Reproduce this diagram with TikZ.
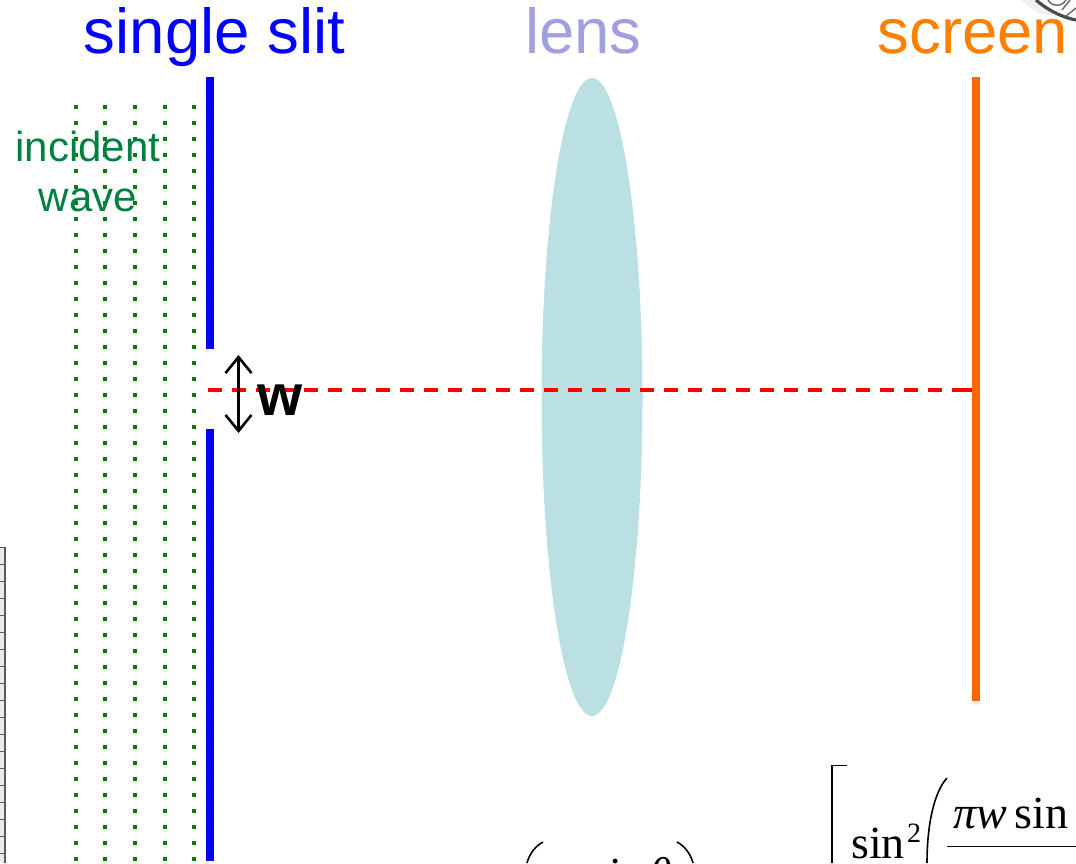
\documentclass[tikz,border=0pt]{standalone}
\usepackage{fontspec}
\setmainfont{Liberation Sans}
\newfontfamily\eqfont{Liberation Serif}
\usetikzlibrary{arrows.meta}
\definecolor{slitblue}{RGB}{0,0,255}
\definecolor{lensc}{RGB}{187,224,227}
\definecolor{lenstxt}{RGB}{160,160,224}
\definecolor{scrc}{RGB}{255,102,0}
\definecolor{scrtxt}{RGB}{255,128,0}
\definecolor{wavetxt}{RGB}{0,128,64}
\definecolor{dotc}{RGB}{0,128,0}
\tikzset{
  wavefront/.style={dotc,line width=4pt,dash pattern=on 4pt off 12pt},
  barblue/.style={slitblue,line width=8pt},
  title/.style={font=\fontsize{63.5}{63.5}\selectfont,inner sep=0pt,anchor=base},
  wavelabel/.style={font=\fontsize{42}{42}\selectfont,wavetxt,inner sep=0pt,anchor=base},
  eqtext/.style={font=\eqfont\fontsize{46}{46}\selectfont,inner sep=0pt,anchor=base west},
  gridline/.style={line width=1.5pt,black!65},
  openarrow/.style={line width=2.6pt,black,{Straight Barb[length=16pt,width=26pt,line width=2.6pt]}-{Straight Barb[length=16pt,width=26pt,line width=2.6pt]}},
}
\begin{document}
\begin{tikzpicture}[x=1pt,y=-1pt]
\useasboundingbox (0,0) rectangle (1076,863);
\clip (0,0) rectangle (1076,863);
% wave fronts
\foreach \wx in {75.5,105,135,164.5,194}
  \draw[wavefront] (\wx,105) -- (\wx,863);
% labels
\node[title,slitblue] (slit) at (214.5,53) {single slit};
\node[title,lenstxt] (lenslab) at (583.5,53) {lens};
\node[title,scrtxt] (scrlab) at (973,53) {screen};
\node[wavelabel] (inc) at (88,161) {incident};
\node[wavelabel] (wav) at (88,211) {wave};
% slit
\draw[barblue] (209.5,77) -- (209.5,349);
\draw[barblue] (209.5,429) -- (209.5,861);
% lens
\fill[lensc] (592,397) ellipse [x radius=50.5,y radius=319];
% axis
\coordinate (axL) at (208,389.5);
\coordinate (axR) at (976,389.5);
\draw[red,line width=4pt,dash pattern=on 14pt off 10pt] (axL) -- (axR);
\draw[red,line width=4pt] (962,389.5) -- (axR);
% screen
\draw[scrc,line width=8pt] (976,77) -- (976,701);
% w
\coordinate (wT) at (238.5,355);
\coordinate (wB) at (238.5,433);
\draw[openarrow] (wT) -- (wB);
\node[font=\bfseries\fontsize{58}{58}\selectfont,inner sep=0pt,anchor=base] (w) at (280,415) {w};
% plot fragment
\fill[black!8] (0,547) rectangle (4,863);
\draw[gridline] (5,547) -- (5,863);
\foreach \gy in {547.5,564.5,...,863}
  \draw[gridline] (0,\gy) -- (5,\gy);
% sketch fragment
\fill[black!6] (1020,0) -- (1036,0) -- (1056,16) -- (1040,14) -- cycle;
\draw[black!70,line width=3.2pt] (1036,0) .. controls (1045,8) and (1060,17) .. (1076,20);
\draw[black!60,line width=1.4pt] (1048,0) .. controls (1052,7) and (1062,7) .. (1066,0);
\draw[black!60,line width=1.4pt] (1062,10) -- (1070,0);
\draw[black!60,line width=1.4pt] (1066,16) -- (1076,8);
% equations
\node[eqtext] (sinsq) at (851,858) {sin};
\node[font=\eqfont\fontsize{28}{28}\selectfont,inner sep=0pt,anchor=base west] (sq) at (907,842) {2};
\node[eqtext] (pww) at (953,828) {\textit{πw}\,sin};
\draw[line width=1.4pt] (947,846.5) -- (1076,846.5);
\draw[line width=1.4pt] (847,765.5) -- (832,765.5) -- (832,863);
\draw[line width=1.6pt] (947,778) .. controls (934,792) and (927,825) .. (927,863);
\draw[line width=1.6pt] (543,842) .. controls (535,846) and (529,855) .. (527,863);
\draw[line width=1.6pt] (677,842) .. controls (685,846) and (691,855) .. (693,863);
\node[eqtext] (eqleftw) at (555,889) {\textit{w}};
\node[eqtext] (eqlefts) at (591,889) {sin};
\node[eqtext] (eqleftt) at (649,889) {\textit{θ}};
\end{tikzpicture}
\end{document}
